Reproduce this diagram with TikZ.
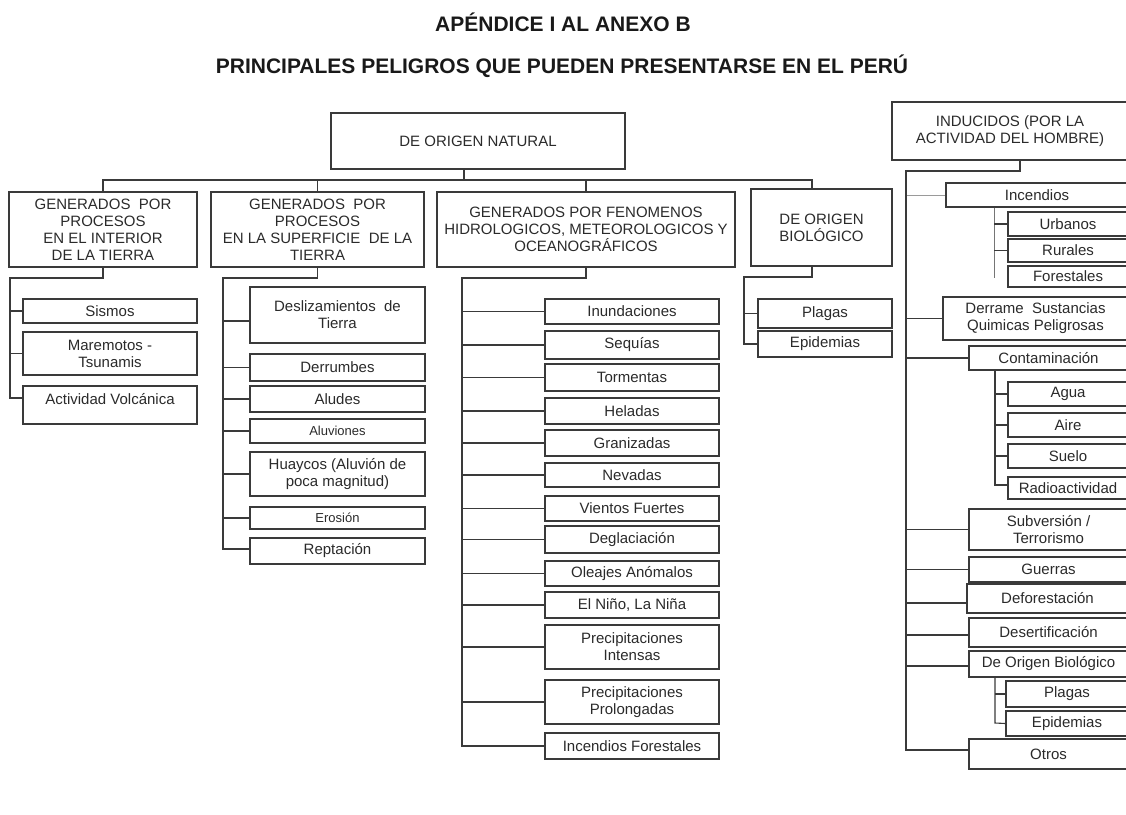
\documentclass[tikz,border=0pt]{standalone}
\usepackage{fontspec}
\setmainfont{Liberation Sans}
\definecolor{ln}{HTML}{3A3A3A}
\definecolor{tx}{HTML}{2A2A2A}
\definecolor{lt}{HTML}{9A9A9A}
\newcommand\mybox[6][]{\node[box,minimum width={#4pt-#2pt},minimum height={#5pt-#3pt},#1] (#6) at ({(#2+#4)/2},{(#3+#5)/2})}
\begin{document}
\begin{tikzpicture}[x=1pt,y=-1pt,
  box/.style={draw=ln,line width=1.1pt,inner sep=1pt,align=center,text=tx,font=\fontsize{15}{17}\selectfont},
  small/.style={font=\fontsize{13}{15}\selectfont},
  conn/.style={draw=ln,line width=1.1pt},
  thin/.style={draw=lt,line width=0.8pt},
  title/.style={font=\fontsize{21}{25}\selectfont\bfseries,text=black!90}]
\useasboundingbox (0,0) rectangle (1126,814);
% titles
\node[title] (ti1) at (563,22) {APÉNDICE I AL ANEXO B};
\node[title] (ti2) at (562,66) {PRINCIPALES PELIGROS QUE PUEDEN PRESENTARSE EN EL PERÚ};
% top level
\mybox{331}{113}{625}{169}{root} {DE ORIGEN NATURAL};
\mybox{9}{192}{197}{267}{g1} {GENERADOS\ \ POR\\PROCESOS\\EN EL INTERIOR\\DE LA TIERRA};
\mybox{211}{192}{424}{267}{g2} {GENERADOS\ \ POR\\PROCESOS\\EN LA SUPERFICIE\ \ DE LA\\TIERRA};
\mybox{437}{192}{735}{267}{g3} {GENERADOS POR FENOMENOS\\HIDROLOGICOS, METEOROLOGICOS Y\\OCEANOGRÁFICOS};
\mybox{751}{189}{892}{266}{g4} {DE ORIGEN\\BIOLÓGICO};
\mybox{892}{102}{1128}{160}{ind} {INDUCIDOS (POR LA\\ACTIVIDAD DEL HOMBRE)};
% bus
\coordinate (rb) at (464,180);
\coordinate (b4) at (812,180);
\draw[conn] (root.south -| rb) -- (rb);
\draw[conn] (g1.north) |- (b4) -- (b4 |- g4.north);
\draw[conn] (g2.north) -- (g2.north |- b4);
\draw[conn] (g3.north) -- (g3.north |- b4);
% column 1
\mybox{23}{299}{197}{323}{sis} {Sismos};
\mybox{23}{332}{197}{375}{mar} {Maremotos -\\Tsunamis};
\mybox[text depth=12pt]{23}{386}{197}{424}{act} {Actividad Volcánica};
\coordinate (t1) at (10,278);
\draw[conn] (g1.south) |- (t1) |- ([yshift=7pt]act.west);
\draw[conn] (t1) |- (sis.west);
\draw[conn] (t1) |- (mar.west);
% column 2
\mybox{250}{287}{425}{343}{desl} {Deslizamientos\ \ de\\Tierra};
\mybox{250}{354}{425}{381}{derr} {Derrumbes};
\mybox{250}{386}{425}{412}{alud} {Aludes};
\mybox[small]{250}{419}{425}{443}{aluv} {Aluviones};
\mybox{250}{452}{425}{496}{huay} {Huaycos (Aluvión de\\poca magnitud)};
\mybox[small]{250}{507}{425}{529}{eros} {Erosión};
\mybox{250}{538}{425}{564}{rept} {Reptación};
\coordinate (t2) at (223,278);
\draw[conn] (g2.south) |- (t2) |- ([yshift=2pt]rept.west);
\draw[conn] (t2) |- ([yshift=-6pt]desl.west);
\foreach \n in {derr,alud,aluv,huay,eros} \draw[conn] (t2) |- (\n.west);
% column 3
\mybox{545}{299}{719}{324}{inu} {Inundaciones};
\mybox{545}{331}{719}{359}{seq} {Sequías};
\mybox{545}{364}{719}{391}{tor} {Tormentas};
\mybox{545}{398}{719}{424}{hel} {Heladas};
\mybox{545}{430}{719}{456}{gra} {Granizadas};
\mybox{545}{463}{719}{487}{nev} {Nevadas};
\mybox{545}{496}{719}{521}{vie} {Vientos Fuertes};
\mybox{545}{526}{719}{553}{deg} {Deglaciación};
\mybox{545}{561}{719}{586}{ole} {Oleajes Anómalos};
\mybox{545}{592}{719}{618}{nin} {El Niño, La Niña};
\mybox{545}{625}{719}{669}{pin} {Precipitaciones\\Intensas};
\mybox{545}{680}{719}{724}{ppr} {Precipitaciones\\Prolongadas};
\mybox{545}{733}{719}{759}{ifo} {Incendios Forestales};
\coordinate (t3) at (462,278);
\draw[conn] (g3.south) |- (t3) |- (ifo.west);
\foreach \n in {inu,seq,tor,hel,gra,nev,vie,deg,ole,nin,pin,ppr} \draw[conn] (t3) |- (\n.west);
% column 4
\mybox{758}{299}{892}{328}{pla} {Plagas};
\mybox{758}{331}{892}{357}{epi} {Epidemias};
\coordinate (b5) at (812,277);
\coordinate (t4) at (744,277);
\draw[conn] (b5 |- g4.south) -- (b5) -- (t4) |- (epi.west);
\draw[conn] (t4) |- (pla.west);
% right column
\mybox{946}{183}{1128}{207}{inc} {Incendios};
\mybox{1008}{212}{1128}{236}{urb} {Urbanos};
\mybox{1008}{239}{1128}{262}{rur} {Rurales};
\mybox{1008}{266}{1128}{287}{fore} {Forestales};
\mybox{943}{297}{1128}{340}{derq} {Derrame\ \ Sustancias\\Quimicas Peligrosas};
\mybox{969}{346}{1128}{370}{cont} {Contaminación};
\mybox{1008}{382}{1128}{406}{agua} {Agua};
\mybox{1008}{413}{1128}{437}{aire} {Aire};
\mybox{1008}{444}{1128}{468}{suel} {Suelo};
\mybox{1008}{477}{1128}{499}{radi} {Radioactividad};
\mybox{969}{509}{1128}{550}{subv} {Subversión /\\Terrorismo};
\mybox{969}{557}{1128}{582}{guer} {Guerras};
\mybox{967}{584}{1128}{613}{defo} {Deforestación};
\mybox{969}{618}{1128}{647}{dese} {Desertificación};
\mybox{969}{651}{1128}{677}{dob} {De Origen Biológico};
\mybox{1006}{681}{1128}{707}{pl2} {Plagas};
\mybox{1006}{711}{1128}{736}{ep2} {Epidemias};
\mybox{969}{739}{1128}{769}{otr} {Otros};
\coordinate (ib) at (1020,171);
\coordinate (t5) at (906,171);
\draw[conn] (ind.south -| ib) -- (ib) -- (t5) |- ([yshift=4pt]otr.west);
\draw[thin] (t5 |- inc.west) -- (inc.west);
\draw[conn] (t5) |- (derq.west);
\draw[conn] (t5) |- (cont.west);
\draw[conn] (t5) |- (subv.west);
\draw[conn] (t5) |- (guer.west);
\draw[conn] (t5) |- ([yshift=-4.5pt]defo.west);
\draw[conn] (t5) |- ([yshift=-2.5pt]dese.west);
\draw[conn] (t5) |- ([yshift=-2pt]dob.west);
% sub-trunks
\coordinate (s1) at (994,278);
\draw[thin,draw=ln!70] (s1 |- inc.south) -- (s1);
\draw[conn] (s1 |- urb.west) -- (urb.west);
\draw[conn] (s1 |- rur.west) -- (rur.west);
\coordinate (s2) at (995,485);
\draw[conn] (s2 |- cont.south) -- (s2) -- ([yshift=3pt]radi.west);
\draw[conn] (s2 |- agua.west) -- (agua.west);
\draw[conn] (s2 |- aire.west) -- (aire.west);
\draw[conn] (s2 |- suel.west) -- (suel.west);
\coordinate (s3) at (995,723);
\draw[conn] (s3 |- dob.south) -- (s3) -- (ep2.west);
\draw[conn] (s3 |- pl2.west) -- (pl2.west);
\end{tikzpicture}
\end{document}
